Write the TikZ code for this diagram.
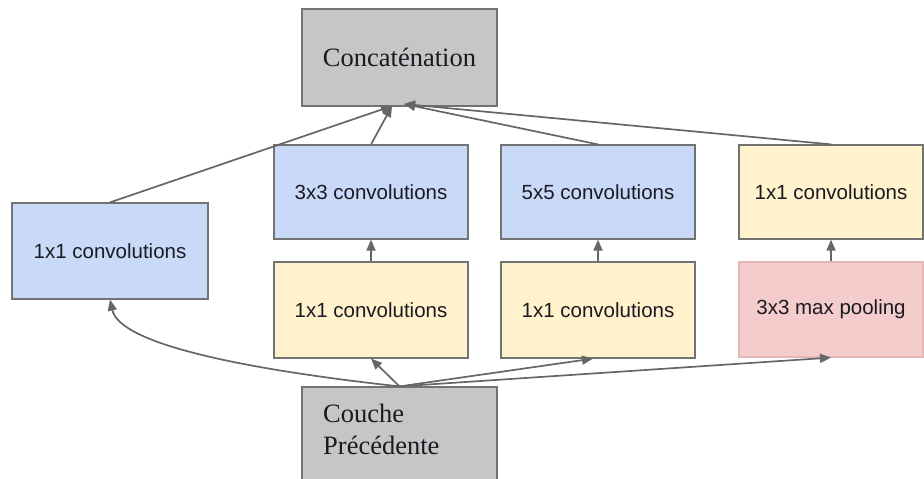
\documentclass[tikz,border=0pt]{standalone}
\usepackage{fontspec}
\setmainfont{Liberation Serif}
\setsansfont{Liberation Sans}
\usetikzlibrary{arrows.meta}

\definecolor{boxgray}{HTML}{C6C6C6}
\definecolor{boxblue}{HTML}{C9DAF8}
\definecolor{boxyellow}{HTML}{FFF2CC}
\definecolor{boxred}{HTML}{F4CCCC}
\definecolor{edgegray}{HTML}{737373}
\definecolor{edgered}{HTML}{E6B5B5}
\definecolor{linkgray}{HTML}{666666}
\definecolor{inkdark}{HTML}{1A1A22}

\tikzset{
  layer/.style={draw=edgegray, line width=1.2pt, inner sep=0pt, text=inkdark},
  convlabel/.style={layer, font=\sffamily\fontsize{20.5}{24}\selectfont},
  bluebox/.style={convlabel, fill=boxblue},
  yellowbox/.style={convlabel, fill=boxyellow},
  redbox/.style={convlabel, fill=boxred, draw=edgered},
  graybox/.style={layer, fill=boxgray},
  serifbig/.style={font=\rmfamily\fontsize{26.5}{32}\selectfont, text=inkdark},
  link/.style={draw=linkgray, line width=1.7pt,
    -{Triangle[length=11pt,width=9pt]}},
}

\begin{document}
\begin{tikzpicture}[x=1pt, y=-1pt]
  \useasboundingbox (0,0) rectangle (924,479);
  \clip (0,0) rectangle (924,479);

  % output block
  \node[graybox, serifbig, minimum width=195pt, minimum height=97pt]
    (concat) at (399.5,57.5) {Concaténation};

  % input block (runs off the lower edge)
  \node[graybox, minimum width=195pt, minimum height=110pt]
    (prev) at (399.5,442) {};
  \node[serifbig, align=left, anchor=north west, inner sep=0pt]
    (prevtext) at (323,404) {Couche\\Précédente};

  % branch 1
  \node[bluebox, minimum width=196pt, minimum height=96pt]
    (conv1) at (110,251) {1x1 convolutions};

  % branch 2
  \node[bluebox, minimum width=194pt, minimum height=94pt]
    (conv3) at (371,192) {3x3 convolutions};
  \node[yellowbox, minimum width=194pt, minimum height=96pt]
    (red3) at (371,310) {1x1 convolutions};

  % branch 3
  \node[bluebox, minimum width=194pt, minimum height=94pt]
    (conv5) at (598,192) {5x5 convolutions};
  \node[yellowbox, minimum width=194pt, minimum height=96pt]
    (red5) at (598,310) {1x1 convolutions};

  % branch 4
  \node[yellowbox, minimum width=184pt, minimum height=94pt]
    (poolproj) at (831,192) {1x1 convolutions};
  \node[redbox, minimum width=184pt, minimum height=95pt]
    (pool) at (831,309.5) {3x3 max pooling};

  % merge points under the output block
  \coordinate (mergeL) at (392,106);
  \coordinate (mergeR) at (404,104);

  % branch outputs into the concatenation
  \draw[link] (conv1.north) -- (mergeL);
  \draw[link] (conv3.north) -- (mergeL);
  \draw[link] (conv5.north) -- (mergeR);
  \draw[link] (poolproj.north) -- (mergeR);

  % inner links of each branch
  \draw[link] (red3.north) -- (conv3.south);
  \draw[link] (red5.north) -- (conv5.south);
  \draw[link] (pool.north) -- (poolproj.south);

  % input fan-out
  \draw[link] (prev.north) .. controls (250,370) and (120,345) .. (conv1.south);
  \draw[link] (prev.north) -- (red3.south);
  \draw[link] (prev.north) -- ([xshift=-5pt]red5.south);
  \draw[link] (prev.north) -- (pool.south);
\end{tikzpicture}
\end{document}
